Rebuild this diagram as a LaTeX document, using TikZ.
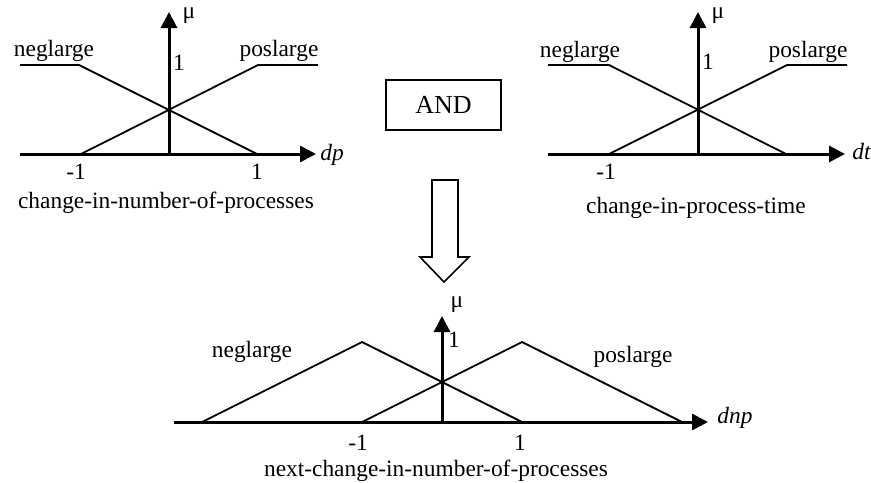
\documentclass[tikz,border=0pt]{standalone}
\usepackage{fontspec}
\setmainfont{Liberation Serif}
\usetikzlibrary{arrows.meta}

\tikzset{
	axis/.style={line width=1.5pt,-{Triangle[length=8pt,width=8pt]}},
	mf/.style={line width=0.9pt},
	txt/.style={inner sep=0pt,font=\fontsize{11.7}{14}\selectfont},
}

\begin{document}
\begin{tikzpicture}[x=0.5pt,y=-0.5pt]
	\useasboundingbox (0,0) rectangle (871,482);
	% change in number of processes
	\begin{scope}[shift={(169,154)}]
		\coordinate (o1) at (0,0);
		\draw[axis] (-149,0) -- (147,0);
		\draw[axis] (o1) -- (0,-142);
		\draw[mf] (-149,-89) -- (-90,-89) -- (88,0);
		\draw[mf] (-88,0) -- (89,-89) -- (149,-89);
		\node[txt] (neg1) at (-115,-103) {neglarge};
		\node[txt] (pos1) at (110,-103) {poslarge};
		\node[txt] (mu1) at (20,-138) {μ};
		\node[txt] (one1) at (10,-91) {1};
		\node[txt] (m1) at (-93,18) {-1};
		\node[txt] (p1) at (88,18) {1};
		\node[txt,anchor=west] (dp) at (151,1) {\textit{dp}};
		\node[txt] (cap1) at (-3,49) {change-in-number-of-processes};
	\end{scope}
	% change in process time
	\begin{scope}[shift={(698,154)}]
		\coordinate (o2) at (0,0);
		\draw[axis] (-150,0) -- (147,0);
		\draw[axis] (o2) -- (0,-142);
		\draw[mf] (-150,-89) -- (-89,-89) -- (88,0);
		\draw[mf] (-89,0) -- (89,-89) -- (149,-89);
		\node[txt] (neg2) at (-118,-102) {neglarge};
		\node[txt] (pos2) at (110,-102) {poslarge};
		\node[txt] (mu2) at (20,-138) {μ};
		\node[txt] (one2) at (10,-92) {1};
		\node[txt] (m2) at (-92,18) {-1};
		\node[txt,anchor=west] (dt) at (154,-3) {\textit{dt}};
		\node[txt] (cap2) at (-2,54) {change-in-process-time};
	\end{scope}
	% AND and the hollow arrow
	\node[draw,line width=0.7pt,minimum width=57.5pt,minimum height=25pt,
		txt,font=\fontsize{13}{15}\selectfont] (and) at (443.5,105) {AND};
	\draw[line width=0.8pt] (432,180) -- (458,180) -- (458,257) -- (469,257)
		-- (444,282) -- (420,257) -- (432,257) -- cycle;
	% next change in number of processes
	\begin{scope}[shift={(442,422)}]
		\coordinate (o3) at (0,0);
		\draw[axis] (-268,0) -- (266,0);
		\draw[axis] (o3) -- (0,-106);
		\draw[mf] (-240,0) -- (-80,-80) -- (80,0);
		\draw[mf] (-80,0) -- (80,-80) -- (240,0);
		\node[txt] (neg3) at (-190,-70) {neglarge};
		\node[txt] (pos3) at (191,-65) {poslarge};
		\node[txt] (mu3) at (15,-117) {μ};
		\node[txt] (one3) at (12,-82) {1};
		\node[txt] (m3) at (-84,21) {-1};
		\node[txt] (p3) at (78,21) {1};
		\node[txt,anchor=west] (dnp) at (275,-4) {\textit{dnp}};
		\node[txt] (cap3) at (-6,49) {next-change-in-number-of-processes};
	\end{scope}
\end{tikzpicture}
\end{document}
